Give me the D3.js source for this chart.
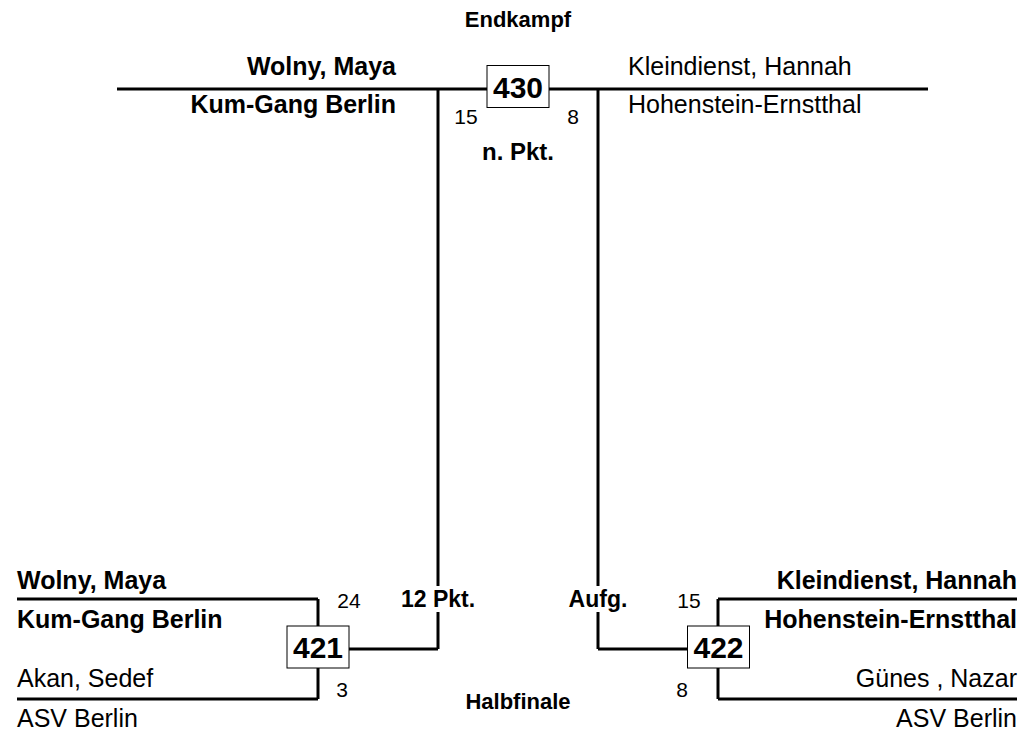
<!DOCTYPE html>
<html>
<head>
<meta charset="utf-8">
<script src="https://cdn.jsdelivr.net/npm/d3@7"></script>
<style>
  body { margin: 0; background: #fff; }
  text { font-family: "Liberation Sans", Arial, sans-serif; fill: #000; }
</style>
</head>
<body>
<div id="container"></div>
<script>
var width = 1021;
var height = 736;

// rounds and matches
var rounds = ["Endkampf", "Halbfinale"];
var matchIds = [430, 421, 422];
var matchRound = ["Endkampf", "Halbfinale", "Halbfinale"];
var matchSide = ["center", "left", "right"];

// players per match (first = winner)
var names1 = ["Wolny, Maya", "Wolny, Maya", "Kleindienst, Hannah"];
var clubs1 = ["Kum-Gang Berlin", "Kum-Gang Berlin", "Hohenstein-Ernstthal"];
var names2 = ["Kleindienst, Hannah", "Akan, Sedef", "Günes , Nazar"];
var clubs2 = ["Hohenstein-Ernstthal", "ASV Berlin", "ASV Berlin"];
var scores1 = [15, 24, 15];
var scores2 = [8, 3, 8];
var results = ["n. Pkt.", "12 Pkt.", "Aufg."];

var svg = d3.select("#container").append("svg")
  .attr("width", width)
  .attr("height", height);

// vertical placement of round lines
var yRound = d3.scalePoint().domain(rounds).range([89, 649]);
// horizontal placement of the two feeder verticals
var xSide = d3.scalePoint().domain(["left", "right"]).range([438, 598]);

var lw = 3;
var boxW = 62, boxH = 42;
var nameSize = 25;

function line(x1, y1, x2, y2){
  svg.append("line")
    .attr("x1", x1).attr("y1", y1).attr("x2", x2).attr("y2", y2)
    .attr("stroke", "#000").attr("stroke-width", lw);
}
function label(x, y, txt, anchor, size, bold){
  return svg.append("text")
    .attr("x", x).attr("y", y)
    .attr("text-anchor", anchor)
    .style("font-size", size + "px")
    .style("font-weight", bold ? "bold" : "normal")
    .text(txt);
}
function box(cx, cy, id){
  svg.append("rect")
    .attr("x", cx - boxW/2).attr("y", cy - boxH/2)
    .attr("width", boxW).attr("height", boxH)
    .attr("fill", "#fff").attr("stroke", "#000").attr("stroke-width", 1);
  label(cx, cy + 11, id, "middle", 30, true);
}

// ---------- final ----------
var yF = yRound("Endkampf");
var yS = yRound("Halbfinale");
var xL = xSide("left"), xR = xSide("right");
var cF = (xL + xR) / 2;
line(117, yF, 928, yF);
line(xL, yF, xL, yS);
line(xR, yF, xR, yS);
box(cF, yF - 2.5, matchIds[0]);
label(cF, 27, rounds[0], "middle", 22, true);
label(xL - 42, yF - 14, names1[0], "end", nameSize, true);
label(xL - 42, yF + 24, clubs1[0], "end", nameSize, true);
label(xR + 30, yF - 14, names2[0], "start", nameSize, false);
label(xR + 30, yF + 24, clubs2[0], "start", nameSize, false);
label(cF - 52, yF + 35, scores1[0], "middle", 21, false);
label(cF + 55, yF + 35, scores2[0], "middle", 21, false);
label(cF, yF + 71, results[0], "middle", 24, true);

// ---------- semifinals ----------
var yTop = yS - 50, yBot = yS + 50;
[1, 2].forEach(function(i){
  var left = matchSide[i] == "left";
  var xv = left ? 318 : 718;          // bracket vertical
  var xo = left ? 17 : 1017;          // outer edge
  var xc = left ? xL : xR;            // feeder vertical
  var bx = left ? xv : xv + 0.5;
  line(xo, yTop, xv, yTop);
  line(xv, yTop, xv, yBot);
  line(xo, yBot, xv, yBot);
  line(bx, yS, xc, yS);
  box(bx, yS - 2, matchIds[i]);

  var anchor = left ? "start" : "end";
  label(xo, yTop - 10, names1[i], anchor, nameSize, true);
  label(xo, yTop + 29, clubs1[i], anchor, nameSize, true);
  label(xo, yBot - 12, names2[i], anchor, nameSize, false);
  label(xo, yBot + 28, clubs2[i], anchor, nameSize, false);

  label(left ? xv + 31 : xv - 29, yTop + 9, scores1[i], "middle", 21, false);
  label(left ? xv + 24 : xv - 36, yBot - 2, scores2[i], "middle", 21, false);

  // result label over the feeder line, with white gap behind it
  var t = label(xc, yTop + 8, results[i], "middle", 23, true);
  var bb = t.node().getBBox();
  svg.insert("rect", "text")
    .attr("x", bb.x - 2).attr("y", bb.y)
    .attr("width", bb.width + 4).attr("height", bb.height)
    .attr("fill", "#fff");
});
label(cF, 709, rounds[1], "middle", 22, true);
</script>
</body>
</html>
